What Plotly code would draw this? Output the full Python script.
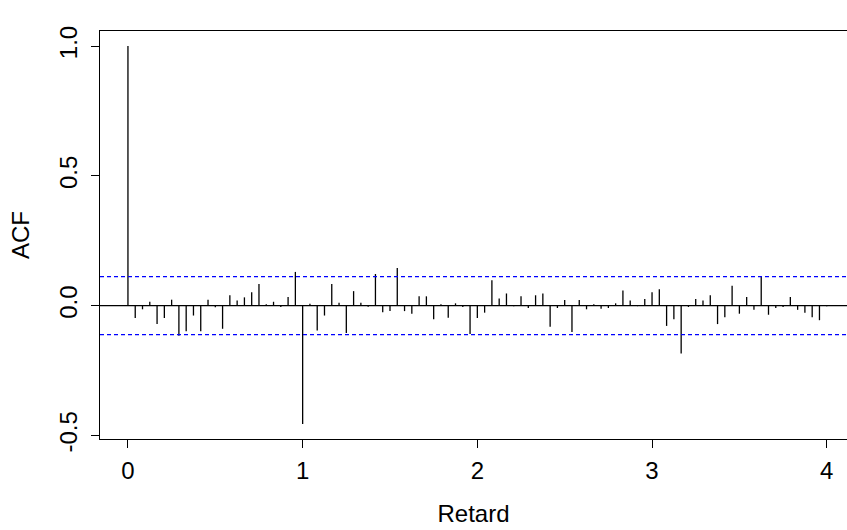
import plotly.graph_objects as go

freq = 24
acf_values = [
    1.0, -0.048, -0.014, 0.015, -0.071, -0.048, 0.023, -0.116, -0.099, -0.038,
    -0.099, 0.023, -0.006, -0.089, 0.040, 0.020, 0.032, 0.052, 0.083, 0.005,
    0.015, -0.005, 0.033, 0.130, -0.4555, 0.007, -0.096, -0.038, 0.083, 0.011,
    -0.105, 0.056, 0.011, -0.004, 0.122, -0.025, -0.021, 0.145, -0.021, -0.031,
    0.036, 0.036, -0.052, 0.005, -0.047, 0.009, -0.005, -0.109, -0.048, -0.027,
    0.098, 0.028, 0.047, -0.002, 0.036, -0.009, 0.040, 0.047, -0.081, -0.009,
    0.022, -0.101, 0.022, -0.014, 0.005, -0.012, -0.009, 0.009, 0.058, 0.020,
    -0.002, 0.026, 0.052, 0.063, -0.078, -0.052, -0.184, -0.005, 0.026, 0.020,
    0.040, -0.071, -0.045, 0.077, -0.031, 0.033, -0.016, 0.111, -0.035, -0.009,
    -0.005, 0.033, -0.016, -0.027, -0.045, -0.056, -0.002,
]
lags = [i / freq for i in range(len(acf_values))]
ci = 0.1117
x_ticks = [0, 1, 2, 3, 4]
y_ticks = [-0.5, 0.0, 0.5, 1.0]
y_tick_labels = ["-0.5", "0.0", "0.5", "1.0"]

W, H = 847, 530
xr = [-0.16, 4.116]
yr = [-0.5137, 1.0582]

xs, ys = [], []
for lag, v in zip(lags, acf_values):
    xs += [lag, lag, None]
    ys += [0, v, None]

fig = go.Figure()
fig.add_trace(go.Scatter(x=xs, y=ys, mode="lines",
                         line=dict(color="black", width=1.3), hoverinfo="skip",
                         showlegend=False))
fig.add_trace(go.Scatter(x=xr, y=[0, 0], mode="lines",
                         line=dict(color="black", width=1.2), showlegend=False))
for b in (ci, -ci):
    fig.add_trace(go.Scatter(x=xr, y=[b, b], mode="lines",
                             line=dict(color="#0000FF", width=1.2, dash="4px,3px"),
                             showlegend=False))

font = dict(family="Liberation Sans, Arial, sans-serif", size=24, color="black")
fig.update_layout(
    width=W, height=H,
    margin=dict(l=100.4, r=0, t=30.9, b=90.9, autoexpand=False),
    paper_bgcolor="white", plot_bgcolor="white",
    font=font,
    xaxis=dict(range=xr, tickvals=x_ticks, ticks="outside", ticklen=8,
               tickcolor="black", tickwidth=1.2, showline=True, linecolor="black",
               linewidth=1.2, mirror=True, showgrid=False, zeroline=False,
               ticklabelstandoff=2,
               title=dict(text="Retard", standoff=22, font=font)),
    yaxis=dict(range=yr, tickvals=y_ticks, ticktext=y_tick_labels,
               ticks="outside", ticklen=8, tickcolor="black", tickwidth=1.2,
               showline=True, linecolor="black", linewidth=1.2, mirror=False,
               showgrid=False, zeroline=False, tickangle=-90,
               ticklabelstandoff=4,
               title=dict(text="ACF", standoff=18, font=font)),
)
fig.write_html(
    "out.html",
    config={"displayModeBar": False},
    post_script="document.body.style.margin='0';document.body.style.overflow='hidden';",
)
